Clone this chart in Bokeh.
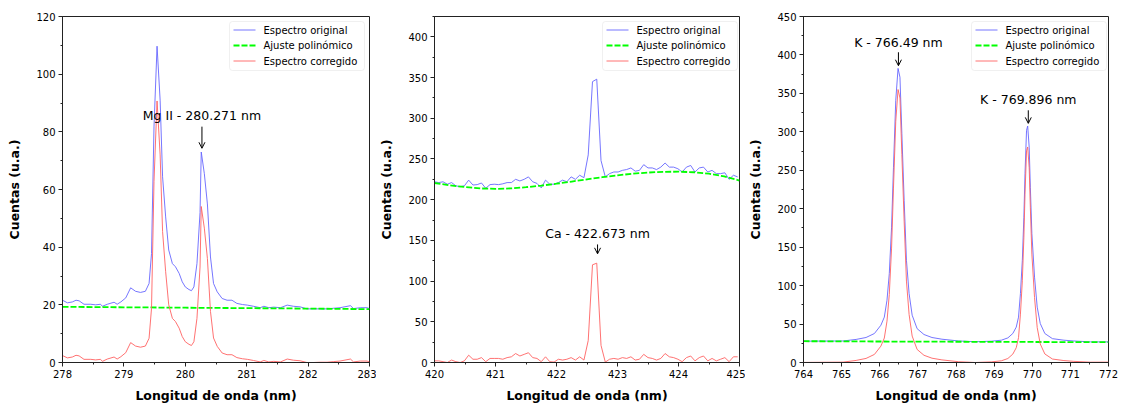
import numpy as np
from bokeh.plotting import figure
from bokeh.layouts import row
from bokeh.models import (Range1d, SingleIntervalTicker, Label, Arrow, OpenHead,
                          BoxAnnotation)
from bokeh.embed import file_html
from bokeh.resources import INLINE

FONT = "DejaVu Sans"
LEG_ORIG = "Espectro original"
LEG_FIT = "Ajuste polinómico"
LEG_CORR = "Espectro corregido"
X_LABEL = "Longitud de onda (nm)"
Y_LABEL = "Cuentas (u.a.)"

# ---------------- Panel 1: Mg II ----------------
mg_x = [278.00, 278.08, 278.16, 278.22, 278.27, 278.35, 278.46, 278.54, 278.62, 278.65,
        278.73, 278.84, 278.89, 278.95, 279.03, 279.11, 279.19, 279.27, 279.35, 279.41,
        279.45, 279.49, 279.54, 279.59, 279.63, 279.68, 279.73, 279.79, 279.84, 279.90,
        279.95, 280.00, 280.06, 280.10, 280.14, 280.19, 280.24, 280.26, 280.31, 280.36,
        280.41, 280.46, 280.52, 280.60, 280.68, 280.76, 280.84, 280.93, 281.01, 281.11,
        281.22, 281.28, 281.36, 281.44, 281.55, 281.66, 281.76, 281.87, 281.98, 282.09,
        282.20, 282.31, 282.41, 282.52, 282.69, 282.74, 282.85, 282.96, 283.00]
mg_orig = [21.6, 20.7, 21.0, 21.6, 21.4, 20.2, 20.2, 20.0, 20.2, 19.5,
           20.2, 20.9, 20.2, 21.0, 22.4, 25.9, 24.7, 24.3, 24.7, 27.4,
           37.8, 81.7, 109.7, 91.0, 64.4, 50.5, 39.0, 34.3, 33.2, 30.9,
           28.0, 26.2, 25.3, 24.9, 26.2, 34.3, 52.0, 73.0, 65.5, 55.0,
           36.6, 27.4, 24.5, 22.2, 21.6, 21.6, 20.5, 20.1, 19.9, 19.5,
           19.0, 19.5, 19.0, 19.2, 19.0, 19.9, 19.5, 19.3, 18.6, 18.6,
           18.6, 18.6, 18.8, 19.0, 19.7, 18.7, 19.0, 19.0, 18.7]
mg_corr = [2.4, 1.6, 1.9, 2.5, 2.3, 1.1, 1.1, 0.9, 1.1, 0.4,
           1.2, 1.9, 1.2, 2.0, 3.4, 6.9, 5.7, 5.3, 5.7, 8.4,
           18.8, 62.7, 90.7, 72.0, 45.4, 31.5, 20.0, 15.3, 14.2, 11.9,
           9.0, 7.2, 6.3, 5.9, 7.2, 15.3, 33.1, 54.1, 46.6, 36.1,
           17.7, 8.5, 5.6, 3.3, 2.7, 2.7, 1.7, 1.3, 1.1, 0.7,
           0.2, 0.7, 0.2, 0.4, 0.2, 1.2, 0.8, 0.6, 0.0, 0.0,
           0.1, 0.1, 0.3, 0.5, 1.2, 0.2, 0.5, 0.5, 0.2]
mg_fit_x = [278.0, 279.0, 280.0, 281.0, 282.0, 283.0]
mg_fit = [19.3, 19.15, 19.0, 18.85, 18.7, 18.5]

# ---------------- Panel 2: Ca ----------------
ca_x0 = 420.0
ca_step = 0.07
ca_orig = [222, 221, 222, 219, 221, 217, 216, 217, 224, 218,
           218.5, 220.5, 214, 218.5, 219, 218.5, 219.5, 221, 221, 225,
           223, 225, 228, 222, 220, 214.5, 224, 219, 219, 221,
           224, 222, 228, 225, 230, 227, 255, 345, 348, 248,
           228, 232, 234, 234, 236, 237, 239, 235, 236, 243,
           239, 239, 237, 240, 245, 240, 240, 238, 234, 240,
           242, 234, 239, 240, 234, 236, 232, 232, 233, 225,
           230, 228]
ca_corr = [2, 2, 1, 0, 3, 1, 0, 2, 9, 4,
           4, 6, 1, 5, 5, 5, 4, 6, 7, 11,
           8, 10, 12, 6, 5, 1, 7, 1, 0.5, 4,
           3, 4, 6, 3, 7, 3, 27, 120, 122, 21,
           0.5, 4, 5, 4, 6, 5, 7, 3, 4, 10,
           6, 5, 3, 5, 11, 7, 6, 4, 1, 6,
           8, 2, 6, 8, 2, 5, 2, 4, 6, 1,
           7, 7]
ca_x = list(np.round(ca_x0 + ca_step * np.arange(len(ca_orig)), 3))
ca_fit_x = [420.0, 420.25, 420.5, 420.75, 421.0, 421.25, 421.5, 421.75, 422.0, 422.25,
            422.5, 422.75, 423.0, 423.25, 423.5, 423.75, 424.0, 424.25, 424.5, 424.75, 425.0]
ca_fit = [220.5, 217.6, 215.5, 213.8, 213.3, 213.8, 215.3, 217.3, 219.6, 222.3,
          225.0, 227.6, 229.9, 231.9, 233.3, 234.2, 234.4, 233.7, 231.9, 228.6, 223.5]

# ---------------- Panel 3: K ----------------
k_x = [764.00, 765.04, 765.38, 765.64, 765.86, 766.03, 766.12, 766.19, 766.25, 766.31,
       766.36, 766.42, 766.48, 766.53, 766.58, 766.64, 766.70, 766.77, 766.85, 766.98,
       767.16, 767.37, 767.63, 768.07, 768.50, 768.93, 769.19, 769.36, 769.49, 769.58,
       769.64, 769.69, 769.74, 769.78, 769.81, 769.85, 769.88, 769.92, 769.95, 769.99,
       770.06, 770.13, 770.21, 770.33, 770.53, 770.83, 771.09, 771.53, 772.00]
k_orig = [27.7, 28.0, 30.0, 32.5, 37.7, 48.5, 59.0, 81.0, 115.6, 176.0,
          254.0, 341.0, 382.5, 371.0, 297.5, 211.0, 133.0, 89.6, 61.5, 44.0,
          36.4, 32.5, 30.3, 28.0, 27.0, 27.7, 29.0, 32.0, 37.7, 46.0,
          59.0, 89.6, 133.0, 189.0, 245.6, 302.0, 307.5, 280.0, 228.0, 167.6,
          111.0, 72.0, 50.7, 37.7, 31.0, 29.0, 28.0, 26.8, 26.8]
k_corr = [0.1, 0.5, 2.7, 5.3, 10.5, 21.3, 31.8, 53.8, 88.4, 148.8,
          226.8, 313.8, 355.0, 344.0, 270.3, 183.8, 105.9, 62.5, 34.4, 17.0,
          9.4, 5.6, 3.4, 1.0, 0.0, 0.8, 2.2, 5.2, 10.9, 19.2,
          32.3, 62.9, 106.3, 162.3, 218.9, 275.3, 280.3, 253.3, 201.3, 141.0,
          84.4, 45.4, 24.1, 11.1, 4.5, 2.5, 1.5, 0.4, 0.5]
k_fit_x = [764.0, 766.0, 768.0, 770.0, 772.0]
k_fit = [27.7, 27.3, 27.0, 26.7, 26.4]

panels = [
    dict(x=mg_x, orig=mg_orig, corr=mg_corr, fx=mg_fit_x, fit=mg_fit,
         xr=(278, 283), yr=(0, 120), yint=20, w=376, bl=62, br=7,
         notes=[("Mg II - 280.271 nm", 280.271, 85.6, 81.8, 74.3)]),
    dict(x=ca_x, orig=ca_orig, corr=ca_corr, fx=ca_fit_x, fit=ca_fit,
         xr=(420, 425), yr=(0, 425), yint=50, w=369, bl=55, br=6,
         notes=[("Ca - 422.673 nm", 422.673, 159, 145, 133.5)]),
    dict(x=k_x, orig=k_orig, corr=k_corr, fx=k_fit_x, fit=k_fit,
         xr=(764, 772), yr=(0, 450), yint=50, w=375, bl=55, br=12,
         notes=[("K - 766.49 nm", 766.49, 416.5, 403.5, 386),
                ("K - 769.896 nm", 769.896, 341.5, 328, 311)]),
]

BLUE = "#6666ff"
RED = "#ff6262"
GREEN = "#00ff00"
H_TOP, H_BOT = 16, 43
FIG_H = 405


def add_legend(p, frame_w, frame_h):
    # legend box (screen units are relative to the plot frame, y upward)
    bw, bh, inset = 135, 49, 5
    left = frame_w - inset - bw
    top = frame_h - inset
    p.add_layout(BoxAnnotation(left=left, right=left + bw, top=top, bottom=top - bh,
                               left_units="screen", right_units="screen",
                               top_units="screen", bottom_units="screen",
                               fill_color="white", fill_alpha=0.85,
                               line_color="#cccccc", line_width=1,
                               border_radius=3, level="overlay"))
    entries = [(LEG_ORIG, BLUE, 0.9, "solid"),
               (LEG_FIT, GREEN, 1.8, "6 2"),
               (LEG_CORR, RED, 0.9, "solid")]
    for i, (txt, col, lw, dash) in enumerate(entries):
        yc = top - 8.5 - 15.5 * i
        p.add_layout(Arrow(x_start=left + 4, x_end=left + 26, y_start=yc, y_end=yc,
                           start_units="screen", end_units="screen",
                           line_color=col, line_width=lw, line_dash=dash,
                           start=None, end=None, level="overlay"))
        p.add_layout(Label(x=left + 34, y=yc, x_units="screen", y_units="screen",
                           text=txt, text_align="left", text_baseline="middle",
                           text_font=FONT, text_font_size="10px",
                           text_color="black", level="overlay"))


def make_panel(d):
    p = figure(width=d["w"], height=FIG_H, output_backend="svg", toolbar_location=None,
               x_range=Range1d(*d["xr"]), y_range=Range1d(*d["yr"]))
    p.min_border_left = d["bl"]
    p.min_border_right = d["br"]
    p.min_border_top = H_TOP
    p.min_border_bottom = H_BOT
    p.outline_line_color = "#222222"
    p.outline_line_width = 1
    p.xgrid.visible = False
    p.ygrid.visible = False
    p.background_fill_color = "white"
    p.border_fill_color = "white"

    p.line(d["x"], d["orig"], line_color=BLUE, line_width=0.9)
    p.line(d["fx"], d["fit"], line_color=GREEN, line_width=1.8, line_dash="6 2")
    p.line(d["x"], d["corr"], line_color=RED, line_width=0.9)

    for (txt, xa, ty, a0, a1) in d["notes"]:
        p.add_layout(Label(x=xa, y=ty, text=txt, text_align="center",
                           text_baseline="middle", text_font=FONT,
                           text_font_size="12.5px", text_color="black"))
        p.add_layout(Arrow(x_start=xa, y_start=a0, x_end=xa, y_end=a1,
                           line_color="black", line_width=1,
                           end=OpenHead(size=6, line_color="black", line_width=1)))

    add_legend(p, d["w"] - d["bl"] - d["br"], FIG_H - H_TOP - H_BOT)

    p.xaxis.ticker = SingleIntervalTicker(interval=1, num_minor_ticks=2)
    p.yaxis.ticker = SingleIntervalTicker(interval=d["yint"], num_minor_ticks=2)
    p.xaxis.axis_label = X_LABEL
    p.yaxis.axis_label = Y_LABEL
    for ax in (p.xaxis, p.yaxis):
        ax.axis_line_color = "#222222"
        ax.major_tick_line_color = "#222222"
        ax.minor_tick_line_color = "#222222"
        ax.major_tick_out = 4
        ax.major_tick_in = 0
        ax.minor_tick_out = 2
        ax.minor_tick_in = 0
        ax.major_label_text_font = FONT
        ax.major_label_text_font_size = "10px"
        ax.major_label_text_color = "black"
        ax.major_label_standoff = 3
        ax.axis_label_text_font = FONT
        ax.axis_label_text_font_size = "12.5px"
        ax.axis_label_text_font_style = "bold"
        ax.axis_label_text_color = "black"
    p.xaxis.axis_label_standoff = 7
    p.yaxis.axis_label_standoff = 11
    return p


figs = [make_panel(d) for d in panels]
layout = row(*figs)
open("out.html", "w").write(file_html(layout, INLINE))
